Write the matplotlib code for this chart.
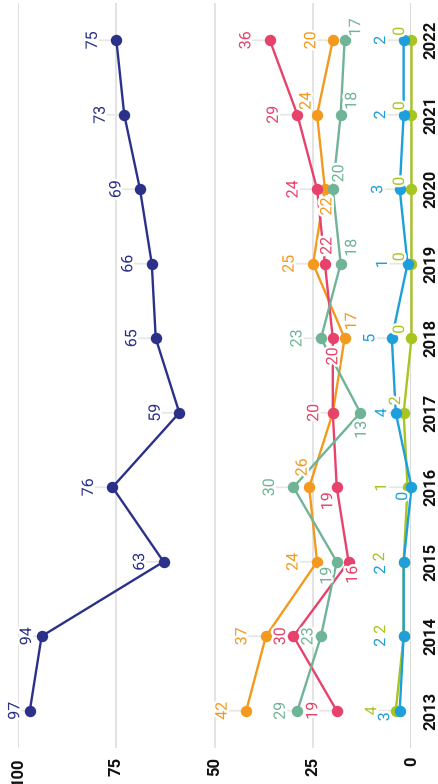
import matplotlib
matplotlib.use("Agg")
import matplotlib.pyplot as plt
import matplotlib.patheffects as pe

plt.rcParams['font.family'] = ['Roboto', 'DejaVu Sans']

years = [2013, 2014, 2015, 2016, 2017, 2018, 2019, 2020, 2021, 2022]

navy   = [97, 94, 63, 76, 59, 65, 66, 69, 73, 75]
orange = [42, 37, 24, 26, 20, 17, 25, 22, 24, 20]
red    = [19, 30, 16, 19, 20, 20, 22, 24, 29, 36]
green  = [29, 23, 19, 30, 13, 23, 18, 20, 18, 17]
blue   = [3, 2, 2, 0, 4, 5, 1, 3, 2, 2]
lime   = [4, 2, 2, 1, 2, 0, 0, 0, 0, 0]

value_ticks = [100, 75, 50, 25, 0]

# label offsets in pixels (dx, dy with y pointing down); None = no label
D = (-24, 0)
label_pos = {
    'navy':   [(-15, 0), (-15, 0)] + [D] * 8,
    'orange': [D, D, D, (-7, -20), None, (7, -17), D, (2, 17), (-11, -14), (-22, 0)],
    'red':    [D, (-13, 0), (4, 13), (-9, 14), (-19, 0), (0, 18), (2, -18), D, D, D],
    'green':  [(-17, 0), (-13, 0), (-10, 14), D, (1, 17), D, (11, -16), (6, -16),
               (11, -14), (11, -13)],
    'blue':   [(-15, 6), (-23, 6), (-23, 8), (-9, 9), (-14, 0), (-22, 0), (-25, 0),
               (-22, 0), (-23, 0), (-23, 0)],
    'lime':   [D, (-23, -7), (-24, -5), (-26, 0), (-8, -12), (-12, -9), (-12, -7),
               (-12, -8), (-12, -9), (-12, -9)],
}

series = [
    ('navy', navy, '#2b3189'),
    ('orange', orange, '#f39a1e'),
    ('red', red, '#e7426b'),
    ('green', green, '#6fb496'),
    ('lime', lime, '#a7c520'),
    ('blue', blue, '#1d9fdb'),
]

W, H = 439, 784
fig = plt.figure(figsize=(W / 100, H / 100), dpi=100)
ax = fig.add_axes([18 / W, (H - 748) / H, 393.5 / W, 745 / H])
ax.set_xlim(100, 0)
ax.set_ylim(2012.5, 2022.5)
ax.axis('off')

for v in value_ticks:
    if v == 0:
        ax.axvline(v, color='#444444', lw=1.0, zorder=2)
    else:
        ax.axvline(v, color='#dedede', lw=1.2, zorder=0)
    ax.annotate(str(v), xy=(v, 0), xycoords=('data', 'axes fraction'),
                xytext=(0, -9), textcoords='offset pixels', rotation=90,
                rotation_mode='anchor', ha='right', va='center',
                fontsize=12, fontweight='bold', color='#111111', annotation_clip=False)

for yr in years:
    ax.annotate(str(yr), xy=(1, yr), xycoords=('axes fraction', 'data'),
                xytext=(19.5, 0), textcoords='offset pixels', rotation=90,
                rotation_mode='anchor', ha='center', va='center',
                fontsize=12, fontweight='bold', color='#111111', annotation_clip=False)

halo = [pe.withStroke(linewidth=3.5, foreground='white')]

for i, (name, vals, col) in enumerate(series):
    ax.plot(vals, years, color=col, lw=1.7, zorder=3 + i * 0.1, clip_on=False)
    ax.plot(vals, years, 'o', color=col, ms=7.2, zorder=4 + i * 0.1, clip_on=False)
    for v, yr, pos in zip(vals, years, label_pos[name]):
        if pos is None:
            continue
        dx, dy = pos
        if dy == 0 and dx < -10:
            # faint leader between label and point
            ax.annotate('', xy=(v, yr), xytext=(dx + 7, 0), textcoords='offset pixels',
                        arrowprops=dict(arrowstyle='-', color='#e6e6e6', lw=1.2,
                                        shrinkA=0, shrinkB=0),
                        zorder=1, annotation_clip=False)
        ax.annotate(str(v), xy=(v, yr), xytext=(dx, -dy), textcoords='offset pixels',
                    rotation=90, rotation_mode='anchor', ha='center', va='center',
                    fontsize=11.5, color=col, path_effects=halo, zorder=6,
                    annotation_clip=False)

fig.savefig('out.png', dpi=100)
